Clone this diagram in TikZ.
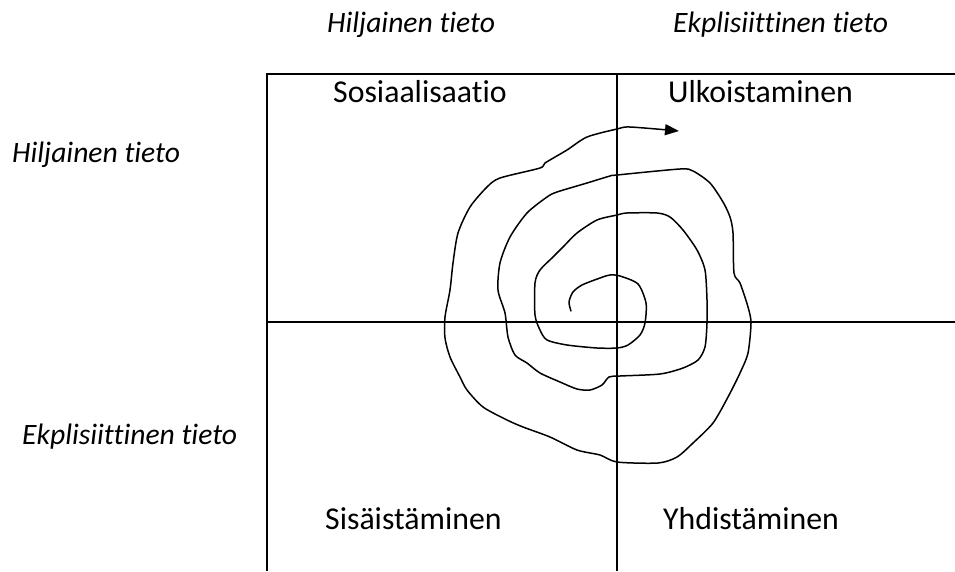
\documentclass[tikz,border=0pt]{standalone}
\usepackage{fontspec}
\setmainfont{Carlito}[RawFeature=-liga]
\usetikzlibrary{arrows.meta}
\begin{document}
\begin{tikzpicture}[x=1pt,y=-1pt,
  frame/.style={line width=1.7pt},
  curve/.style={line width=1.5pt,line join=round,line cap=round},
  quad/.style={anchor=base west,inner sep=0pt,font=\fontsize{31.8}{36}\selectfont},
  axis/.style={anchor=base west,inner sep=0pt,font=\fontsize{29.6}{34}\selectfont\itshape}]
\useasboundingbox (0,0) rectangle (955,571);
\fill[white] (0,0) rectangle (955,571);
% frame lines
\coordinate (tl) at (267,74);
\coordinate (bl) at (267,571);
\coordinate (tr) at (955,74);
\coordinate (tm) at (617,74);
\coordinate (bm) at (617,571);
\coordinate (ml) at (267,322);
\coordinate (mr) at (955,322);
\draw[frame] (bl) -- (tl) -- (tr);
\draw[frame] (tm) -- (bm);
\draw[frame] (ml) -- (mr);
% labels
\node[axis] (h1) at (327,32) {Hiljainen tieto};
\node[axis] (e1) at (673,32) {Ekplisiittinen tieto};
\node[axis] (h2) at (12,162) {Hiljainen tieto};
\node[axis] (e2) at (22,444) {Ekplisiittinen tieto};
\node[quad] (q1) at (333,102) {Sosiaalisaatio};
\node[quad] (q2) at (668,102) {Ulkoistaminen};
\node[quad] (q3) at (325,529) {Sisäistäminen};
\node[quad] (q4) at (663,529) {Yhdistäminen};
% spiral
\draw[curve,-{Triangle[length=14pt,width=11pt]}] plot[smooth,tension=0.45] coordinates {
(571,311) (569,302) (573,292) (582,285) (600,278) (610,275) (620,276) (638,284) (646,303) (645,323) (640,335) (628,345) (617,348) (597,348) (567,345) (547,340) (540,330) (535,315) (535,283) (540,270) (553,257) (563,247) (577,233) (597,220) (617,215) (627,213) (657,213) (670,217) (683,230) (697,250) (705,270) (707,300) (707,323) (705,347) (698,360) (683,368) (660,374) (620,376) (609,377) (602,385) (590,390) (577,389) (560,382) (540,373) (527,363) (515,355) (508,337) (505,313) (498,290) (500,263) (510,237) (527,213) (547,197) (557,192) (587,183) (610,176) (617,175) (680,169) (693,171) (710,183) (723,202) (730,217) (733,233) (734,273) (740,283) (748,307) (751,323) (748,353) (740,373) (728,397) (713,423) (693,443) (677,457) (658,463) (617,462) (600,455) (577,450) (550,437) (523,427) (507,420) (483,407) (467,390) (460,377) (450,357) (445,338) (445,317) (450,290) (453,263) (458,233) (470,207) (487,187) (500,178) (540,168) (545,163) (567,150) (587,137) (617,129) (630,127) (679,131)};
\end{tikzpicture}
\end{document}
